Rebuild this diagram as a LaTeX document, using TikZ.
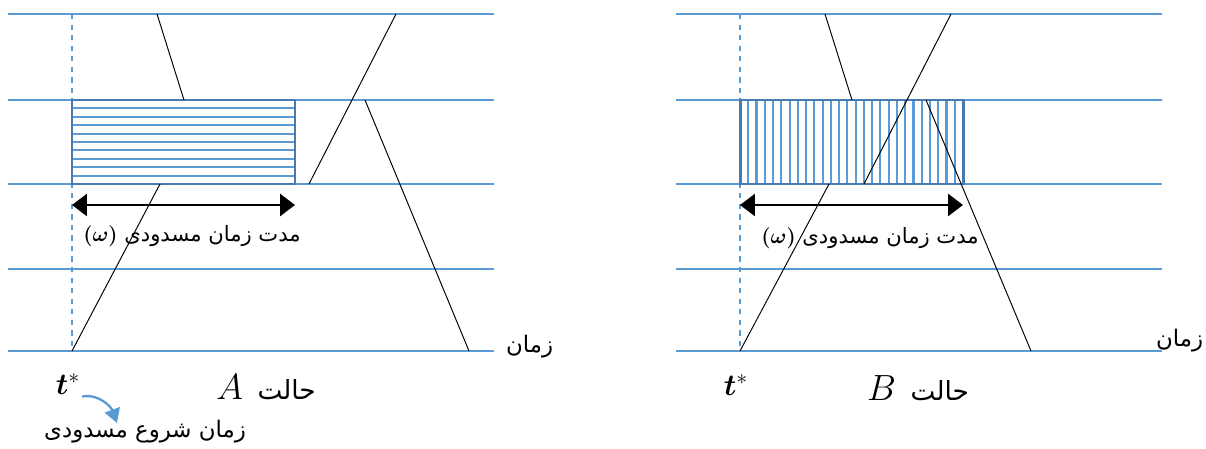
\documentclass[tikz,border=0pt]{standalone}
\usepackage{fontspec}
\usepackage{bm}
\usetikzlibrary{arrows.meta,positioning}
\TeXXeTstate=1
\newfontfamily\arabicfont[Script=Arabic]{DejaVu Sans}
\definecolor{Lane}{HTML}{5B9BD5}
\definecolor{Frame}{HTML}{4A7BAF}
\newcommand{\lanes}[1]{
  \begin{scope}[shift={(#1,0)}]
    \foreach \y in {14,100,184,269,351} \draw[Lane, line width=0.7pt] (0,\y) -- (486,\y);
    \draw[Lane, line width=0.6pt, dashed] (64,14) -- (64,351);
  \end{scope}
}
\newcommand{\casevar}[1]{{\fontsize{20}{24}\selectfont$#1$}}
\tikzset{
  trainpath/.style={black, line width=0.55pt},
  hatch/.style={Lane, line width=1.2pt},
  frame/.style={Frame, line width=1.7pt},
  span/.style={black, line width=1.6pt, {Triangle[length=8.5pt,width=12.5pt]}-{Triangle[length=8.5pt,width=12.5pt]}},
  fa/.style={font=\arabicfont\fontsize{13}{15}\selectfont, inner sep=1pt},
  big/.style={font=\fontsize{15}{18}\selectfont, inner sep=1pt}
}

\begin{document}
\begin{tikzpicture}[x=0.02cm, y=-0.02cm]
        \useasboundingbox (0,0) rectangle (1206,449);
        \lanes{8}
        \lanes{676}
        % case A: horizontal hatch
        \foreach \i in {1,...,9} \draw[hatch] (72,{100+\i*8.4}) -- (295,{100+\i*8.4});
        \draw[frame] (72,100) rectangle (295,184);
        \draw[trainpath] (157,14) -- (184,100);
        \draw[trainpath] (72,351) -- (160,184);
        \draw[trainpath] (309,184) -- (396,14);
        \draw[trainpath] (365,100) -- (469,351);
        \coordinate (wA1) at (72,205);
        \coordinate (wA2) at (295,205);
        \draw[span] (wA1) -- (wA2);
        \node[fa, font=\arabicfont\fontsize{12}{14}\selectfont] (wA) at (192,236) {\beginR مدت زمان مسدودی \beginL$\bm{(\omega)}$\endL\endR};
        \node[fa, anchor=west] (timeA) at (504,347) {\beginR زمان\endR};
        \node[big, font=\fontsize{18}{21}\selectfont] (tA) at (68,384) {$\bm{t}^{*}$};
        \node[big] (caseA) at (266,387) {\arabicfont\beginR حالت\hspace{0.55em}\beginL\casevar{A}\endL\endR};
        \node[fa] (startA) at (145,432) {\beginR زمان شروع مسدودی\endR};
        \coordinate (tipA) at (117,423);
        \draw[Lane, line width=1.3pt, -{Triangle[length=8pt,width=9pt]}] (tA.south east) to[out=10, in=110] (tipA);
        % case B: vertical hatch
        \foreach \i in {1,...,26} \draw[hatch] ({740+\i*223/27},100) -- ({740+\i*223/27},184);
        \draw[frame] (740,100) rectangle (963,184);
        \draw[trainpath] (825,14) -- (852,100);
        \draw[trainpath] (740,351) -- (829,184);
        \draw[trainpath] (864,184) -- (951,14);
        \draw[trainpath] (926,100) -- (1031,351);
        \coordinate (wB1) at (740,205);
        \coordinate (wB2) at (963,205);
        \draw[span] (wB1) -- (wB2);
        \node[fa, font=\arabicfont\fontsize{12}{14}\selectfont] (wB) at (870,238) {\beginR مدت زمان مسدودی \beginL$\bm{(\omega)}$\endL\endR};
        \node[fa, anchor=west] (timeB) at (1154,341) {\beginR زمان\endR};
        \node[big, font=\fontsize{18}{21}\selectfont] (tB) at (736,385) {$\bm{t}^{*}$};
        \node[big] (caseB) at (918,388) {\arabicfont\beginR حالت\hspace{0.55em}\beginL\casevar{B}\endL\endR};
      \end{tikzpicture}
\end{document}
